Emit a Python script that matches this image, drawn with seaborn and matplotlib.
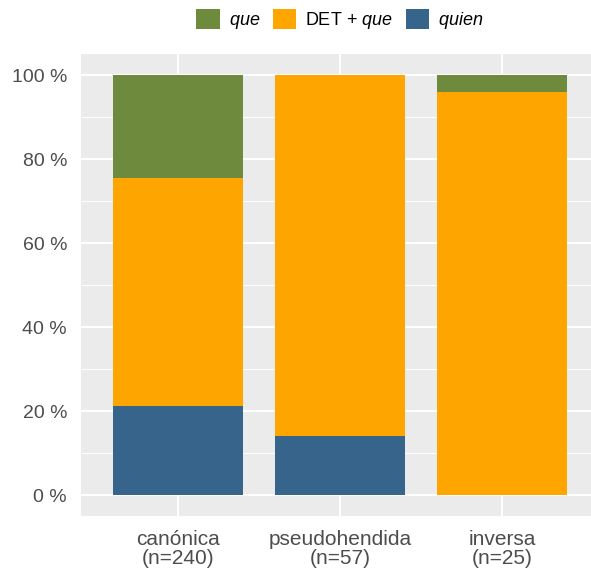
import matplotlib
matplotlib.use("Agg")
import matplotlib.pyplot as plt
import seaborn as sns
import numpy as np
import pandas as pd
from matplotlib.patches import Patch
from matplotlib.ticker import MultipleLocator

# ---- data (counts) ----
categories = ["canónica", "pseudohendida", "inversa"]
n_totals = [240, 57, 25]
quien_counts = [51, 8, 0]
det_que_counts = [130, 49, 24]
que_counts = [59, 0, 1]
series_labels = [r"$\mathit{que}$", r"DET + $\mathit{que}$", r"$\mathit{quien}$"]
series_colors = ["#6E8B3D", "#FFA500", "#36648B"]
y_ticks = [0, 20, 40, 60, 80, 100]

sns.set_theme(style="darkgrid")
plt.rcParams["font.family"] = ["Liberation Sans", "DejaVu Sans"]
plt.rcParams["mathtext.fontset"] = "custom"
plt.rcParams["mathtext.rm"] = "Liberation Sans"
plt.rcParams["mathtext.it"] = "Liberation Sans:italic"

tot = np.array(n_totals, dtype=float)
p_quien = np.array(quien_counts) / tot * 100
p_det = np.array(det_que_counts) / tot * 100
p_que = np.array(que_counts) / tot * 100

xlabels = [f"{c}\n(n={n})" for c, n in zip(categories, n_totals)]
df = pd.DataFrame({
    "cat": xlabels,
    "c1": p_quien,
    "c2": p_quien + p_det,
    "c3": p_quien + p_det + p_que,
})

W, H = 591, 568
fig = plt.figure(figsize=(W / 100, H / 100), dpi=100)
ax = fig.add_axes([81 / W, (H - 516) / H, 518 / W, 462 / H])
ax.set_facecolor("#EBEBEB")

for col, color in zip(["c3", "c2", "c1"], series_colors):
    sns.barplot(data=df, x="cat", y=col, color=color, width=0.8,
                saturation=1, ax=ax, edgecolor="none", linewidth=0, zorder=3)

ax.set_xlim(-0.6, 2.6)
ax.set_ylim(-5, 105)
ax.set_yticks(y_ticks)
ax.set_yticklabels([f"{v} %" for v in y_ticks])
ax.yaxis.set_minor_locator(MultipleLocator(10))
ax.set_xlabel("")
ax.set_ylabel("")

ax.grid(which="major", color="white", linewidth=1.4, zorder=0)
ax.grid(which="minor", axis="y", color="white", linewidth=0.7, zorder=0)
ax.set_axisbelow(True)
for s in ax.spines.values():
    s.set_visible(False)

ax.tick_params(axis="both", which="major", length=3, width=0.8, color="#333333",
               labelcolor="#4D4D4D")
ax.tick_params(axis="y", which="major", pad=7, labelsize=14)
ax.tick_params(axis="x", which="major", pad=7, labelsize=15)
ax.tick_params(which="minor", length=0)
for lab in ax.get_xticklabels():
    lab.set_linespacing(1.0)

handles = [Patch(facecolor=c, edgecolor="none") for c in series_colors]
fig.legend(handles, series_labels, loc="center", bbox_to_anchor=(340 / W, 1 - 20 / H),
           ncol=3, frameon=False, fontsize=13, handlelength=1.3, handleheight=1.3,
           handletextpad=0.5, columnspacing=0.7, labelcolor="black")

fig.savefig("out.png", dpi=100)
